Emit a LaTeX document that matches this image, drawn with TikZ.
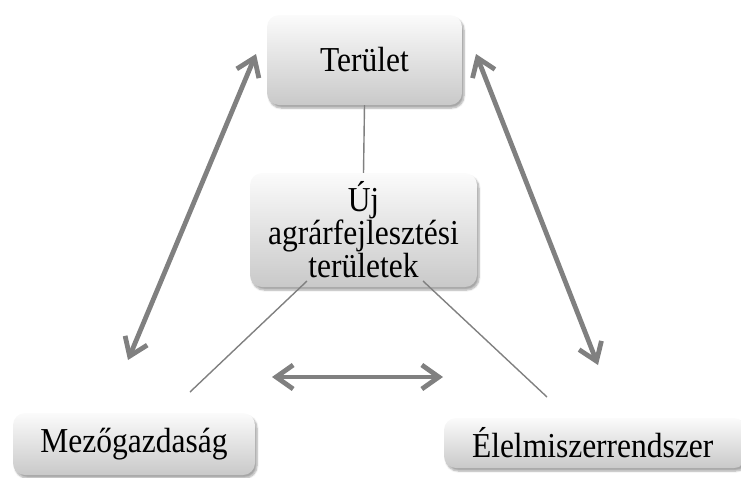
\documentclass[tikz,border=0pt]{standalone}
\usepackage{fontspec}
\setmainfont{Liberation Serif}[FakeStretch=0.9]
\usetikzlibrary{arrows.meta,shadows.blur}

\definecolor{linegray}{HTML}{808080}
\definecolor{boxtop}{HTML}{FBFBFB}
\definecolor{boxbottom}{HTML}{C9C9C9}

\tikzset{
  panel/.style={
    rectangle, rounded corners=12pt, draw=none,
    top color=boxtop, bottom color=boxbottom,
    blur shadow={shadow xshift=2pt, shadow yshift=-3pt,
                 shadow blur steps=6, shadow opacity=35},
    font=\fontsize{35}{31.5}\selectfont, text=black,
    align=center, inner sep=0pt},
  thinlink/.style={draw=linegray, line width=1.4pt},
  twoway/.style={draw=linegray, line width=4.8pt,
    {Straight Barb[length=17pt,width=24pt,line width=4.8pt]}-{Straight Barb[length=17pt,width=24pt,line width=4.8pt]}}
}

\begin{document}
\begin{tikzpicture}[x=1pt,y=-1pt]
  \useasboundingbox (0,0) rectangle (741,477);

  % boxes
  \node[panel, minimum width=195pt, minimum height=90pt]  (ter) at (364.5,60)  {Terület};
  \node[panel, minimum width=227pt, minimum height=114pt] (uj)  at (363.5,230) {Új\\agrárfejlesztési\\területek};
  \node[panel, minimum width=242pt, minimum height=62pt]  (mez) at (134,444)   {Mezőgazdaság};
  \node[panel, minimum width=302pt, minimum height=50pt, text width=290pt, align=left]
        (ele) at (595,443) {\hspace{22pt}Élelmiszerrendszer};

  % free ends of the connectors
  \coordinate (ujL)  at (307,281);
  \coordinate (ujR)  at (423,281);
  \coordinate (mezT) at (190,392);
  \coordinate (eleT) at (547,397);
  \coordinate (aLt)  at (256,54);
  \coordinate (aLb)  at (128,360);
  \coordinate (aRt)  at (476,54);
  \coordinate (aRb)  at (598,365);
  \coordinate (aHl)  at (272,377);
  \coordinate (aHr)  at (443,377);

  % thin links
  \draw[thinlink] (ter.south) -- (uj.north);
  \draw[thinlink] (ujL) -- (mezT);
  \draw[thinlink] (ujR) -- (eleT);

  % two-way arrows
  \draw[twoway] (aLb) -- (aLt);
  \draw[twoway] (aRt) -- (aRb);
  \draw[twoway] (aHl) -- (aHr);
\end{tikzpicture}
\end{document}
